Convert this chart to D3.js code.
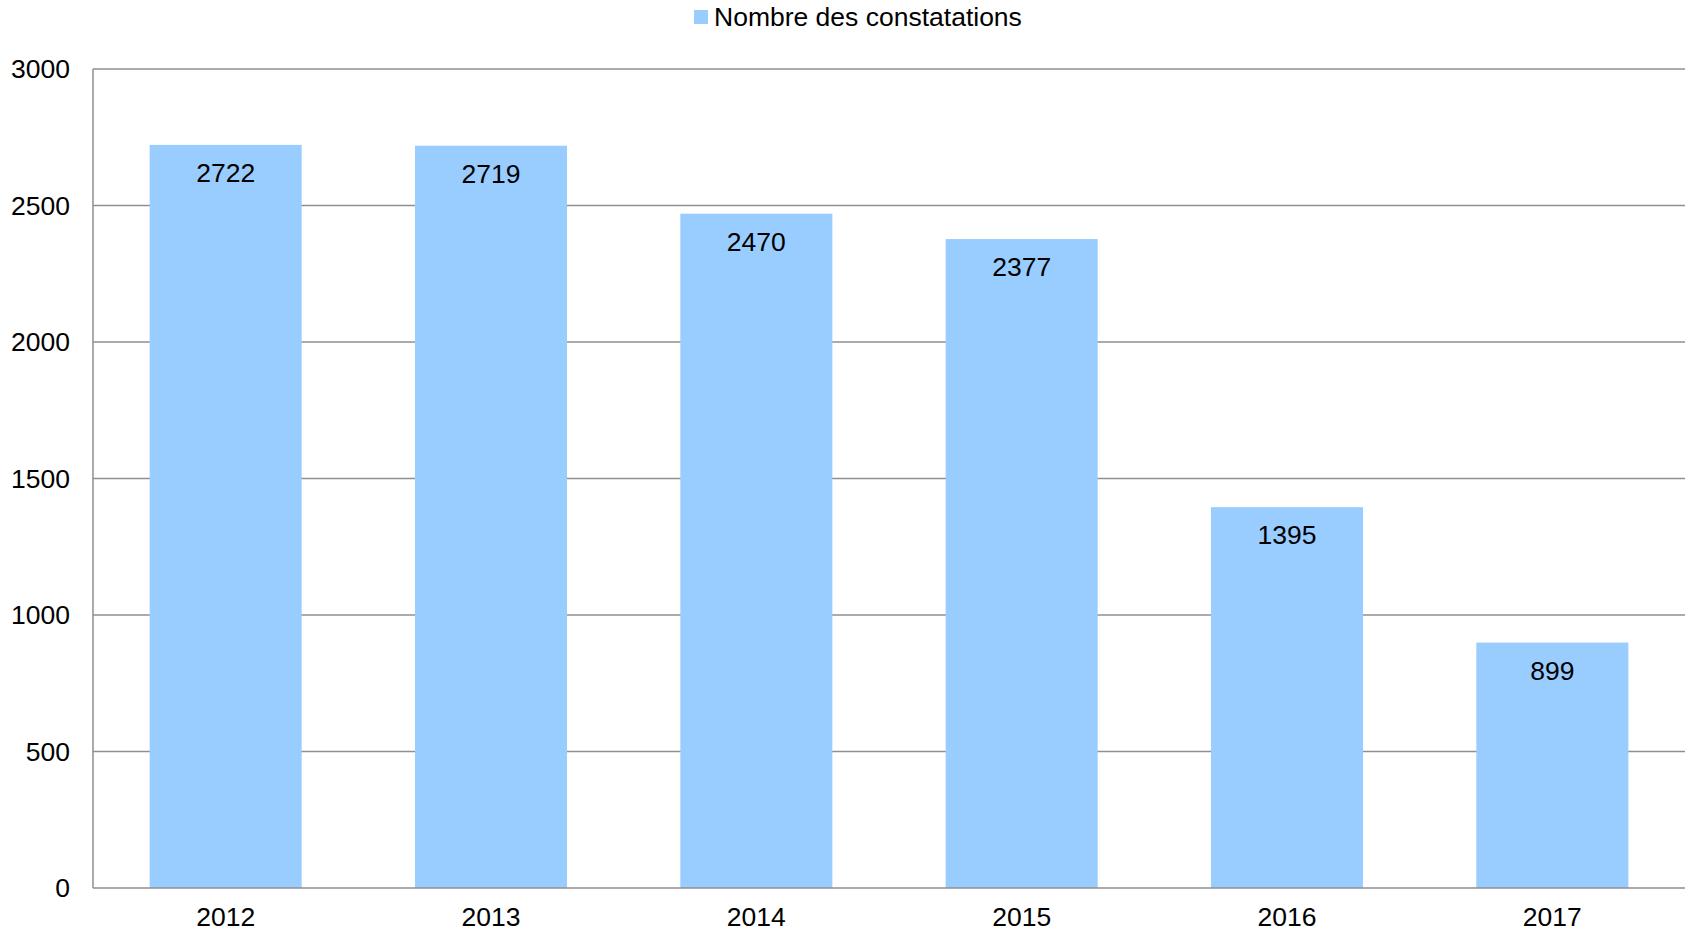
<!DOCTYPE html>
<html><head><meta charset="utf-8">
<script src="https://cdn.jsdelivr.net/npm/d3@7"></script>
<style>body{margin:0;background:#fff}svg{display:block}text{font-family:"Liberation Sans",Arial,sans-serif;fill:#000}</style>
</head><body><svg id="c" width="1694" height="933"></svg>
<script>
const categories = ["2012","2013","2014","2015","2016","2017"];
const values = [2722,2719,2470,2377,1395,899];
const yTicks = [0,500,1000,1500,2000,2500,3000];
const seriesName = "Nombre des constatations";

(function(){
const svg = d3.select("#c");
const pL = 93, pR = 1685, pT = 69, pB = 888;
const fs = 26.5;
const x = d3.scaleBand().domain(categories).range([pL, pR]).padding(0);
const y = d3.scaleLinear().domain([0,3000]).range([pB, pT]);
const barW = x.bandwidth()*0.573;

svg.append("g").selectAll("line").data(yTicks.filter(d=>d>0)).join("line")
  .attr("x1", pL).attr("x2", pR).attr("y1", d=>y(d)).attr("y2", d=>y(d))
  .attr("stroke","#8f8f8f").attr("stroke-width",1.5);

svg.append("g").selectAll("rect").data(values).join("rect")
  .attr("x",(d,i)=>x(categories[i])+x.bandwidth()/2-barW/2)
  .attr("width",barW)
  .attr("y",d=>y(d)).attr("height",d=>y(0)-y(d))
  .attr("fill","#99ccff");

svg.append("line").attr("x1",pL).attr("x2",pL).attr("y1",pT).attr("y2",pB)
  .attr("stroke","#8f8f8f").attr("stroke-width",1.5);
svg.append("line").attr("x1",pL).attr("x2",pR).attr("y1",pB).attr("y2",pB)
  .attr("stroke","#8f8f8f").attr("stroke-width",1.5);

svg.append("g").selectAll("text").data(yTicks).join("text")
  .attr("x",70).attr("y",d=>y(d)).attr("dy","0.35em")
  .attr("text-anchor","end").attr("font-size",fs).text(d=>d);

svg.append("g").selectAll("text").data(categories).join("text")
  .attr("x",d=>x(d)+x.bandwidth()/2).attr("y",pB+38)
  .attr("text-anchor","middle").attr("font-size",fs).text(d=>d);

svg.append("g").selectAll("text").data(values).join("text")
  .attr("x",(d,i)=>x(categories[i])+x.bandwidth()/2).attr("y",d=>y(d)+37)
  .attr("text-anchor","middle").attr("font-size",fs).text(d=>d);

svg.append("rect").attr("x",694).attr("y",10).attr("width",14).attr("height",14).attr("fill","#99ccff");
svg.append("text").attr("x",714).attr("y",26).attr("font-size",fs).text(seriesName);
})();
</script></body></html>
